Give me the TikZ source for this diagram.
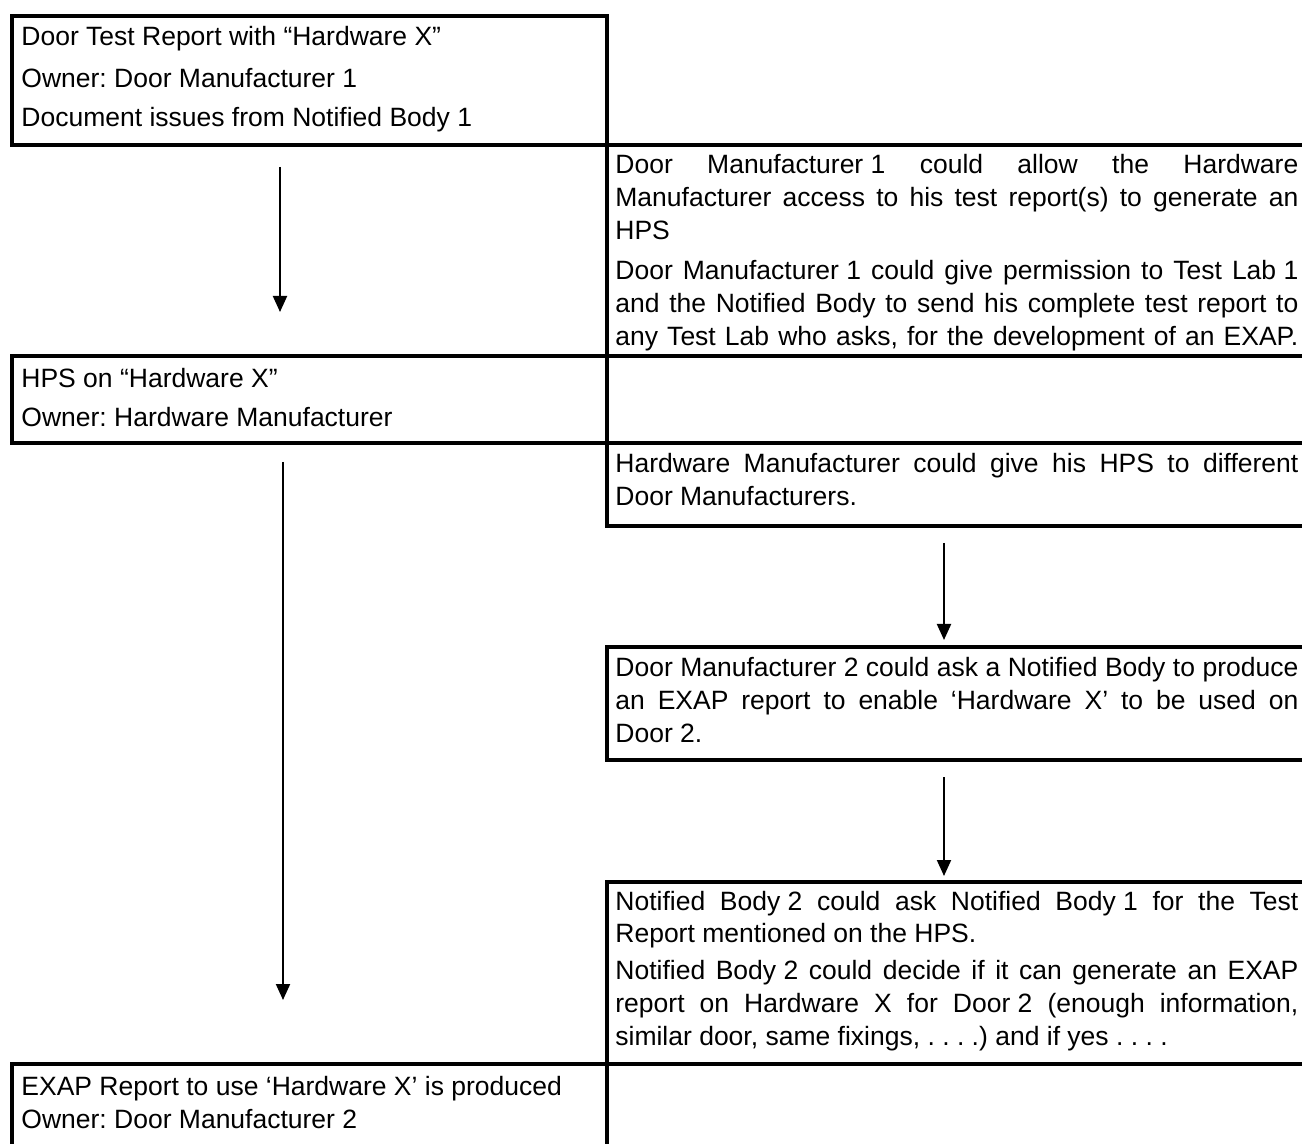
\documentclass[tikz,border=0pt]{standalone}
\usepackage{fontspec}
\setmainfont{Liberation Sans}
\usetikzlibrary{arrows.meta}
\frenchspacing
\newcommand{\jl}[1]{\makebox[341.5pt][s]{#1}}
\tikzset{
  box/.style={draw, line width=2pt, rectangle, inner sep=0pt, anchor=north west},
  txt/.style={anchor=base west, inner sep=0pt, font=\fontsize{13.25pt}{16.5pt}\selectfont\frenchspacing},
  flow/.style={line width=1pt, -{Triangle[length=8pt,width=7pt]}}
}
\begin{document}
\begin{tikzpicture}[x=0.5pt,y=-0.5pt]
\useasboundingbox (0,0) rectangle (1302,1144);
\clip (0,0) rectangle (1302,1144);
\fill[white] (0,0) rectangle (1302,1144);
% boxes
\node[box, minimum width=297.5pt, minimum height=64.5pt] (b1) at (10,14) {};
\node[box, minimum width=360pt, minimum height=105.5pt] (bA) at (605,143) {};
\node[box, minimum width=297.5pt, minimum height=43.5pt] (b2) at (10,354) {};
\node[box, minimum width=360pt, minimum height=41.5pt] (bB) at (605,441) {};
\node[box, minimum width=360pt, minimum height=56.5pt] (bC) at (605,645) {};
\node[box, minimum width=360pt, minimum height=91pt] (bD) at (605,880) {};
\node[box, minimum width=297.5pt, minimum height=50pt] (b3) at (10,1062) {};
% texts box 1
\node[txt] (t11) at (21,46) {Door Test Report with “Hardware X”};
\node[txt] (t12) at (21,88) {Owner: Door Manufacturer~1};
\node[txt] (t13) at (21,127) {Document issues from Notified Body 1};
% box A
\node[txt] (ta1) at (615,174) {\jl{Door \mbox{Manufacturer~1} could allow the Hardware}};
\node[txt] (ta2) at (615,207) {\jl{Manufacturer access to his test report(s) to generate an}};
\node[txt] (ta3) at (615,240) {HPS};
\node[txt] (ta4) at (615,280) {\jl{Door \mbox{Manufacturer~1} could give permission to Test \mbox{Lab~1}}};
\node[txt] (ta5) at (615,313) {\jl{and the Notified Body to send his complete test report to}};
\node[txt] (ta6) at (615,346) {\jl{any Test Lab who asks, for the development of an EXAP.}};
% HPS box
\node[txt] (t21) at (21,388) {HPS on “Hardware X”};
\node[txt] (t22) at (21,427) {Owner: Hardware Manufacturer};
% box B
\node[txt] (tb1) at (615,473) {\jl{Hardware Manufacturer could give his HPS to different}};
\node[txt] (tb2) at (615,506) {Door Manufacturers.};
% box C
\node[txt] (tc1) at (615,676) {\jl{Door \mbox{Manufacturer~2} could ask a Notified Body to produce}};
\node[txt] (tc2) at (615,709) {\jl{an EXAP report to enable ‘Hardware X’ to be used on}};
\node[txt] (tc3) at (615,742) {Door 2.};
% box D
\node[txt] (td1) at (615,910) {\jl{Notified \mbox{Body~2} could ask Notified \mbox{Body~1} for the Test}};
\node[txt] (td2) at (615,942) {Report mentioned on the HPS.};
\node[txt] (td3) at (615,979) {\jl{Notified \mbox{Body~2} could decide if it can generate an EXAP}};
\node[txt] (td4) at (615,1012) {\jl{report on Hardware X for \mbox{Door~2} (enough information,}};
\node[txt] (td5) at (615,1045) {similar door, same fixings, .\ .\ .\ .) and if yes .\ .\ .\ .};
% EXAP box
\node[txt] (t31) at (21,1095) {EXAP Report to use ‘Hardware X’ is produced};
\node[txt] (t32) at (21,1128) {Owner: Door Manufacturer 2};
% arrows
\coordinate (a1s) at (280,167); \coordinate (a1e) at (280,312);
\coordinate (a2s) at (283,462); \coordinate (a2e) at (283,1000);
\coordinate (a3s) at (944,543); \coordinate (a3e) at (944,640);
\coordinate (a4s) at (944,777); \coordinate (a4e) at (944,876);
\draw[flow] (a1s) -- (a1e);
\draw[flow] (a2s) -- (a2e);
\draw[flow] (a3s) -- (a3e);
\draw[flow] (a4s) -- (a4e);
\end{tikzpicture}
\end{document}
